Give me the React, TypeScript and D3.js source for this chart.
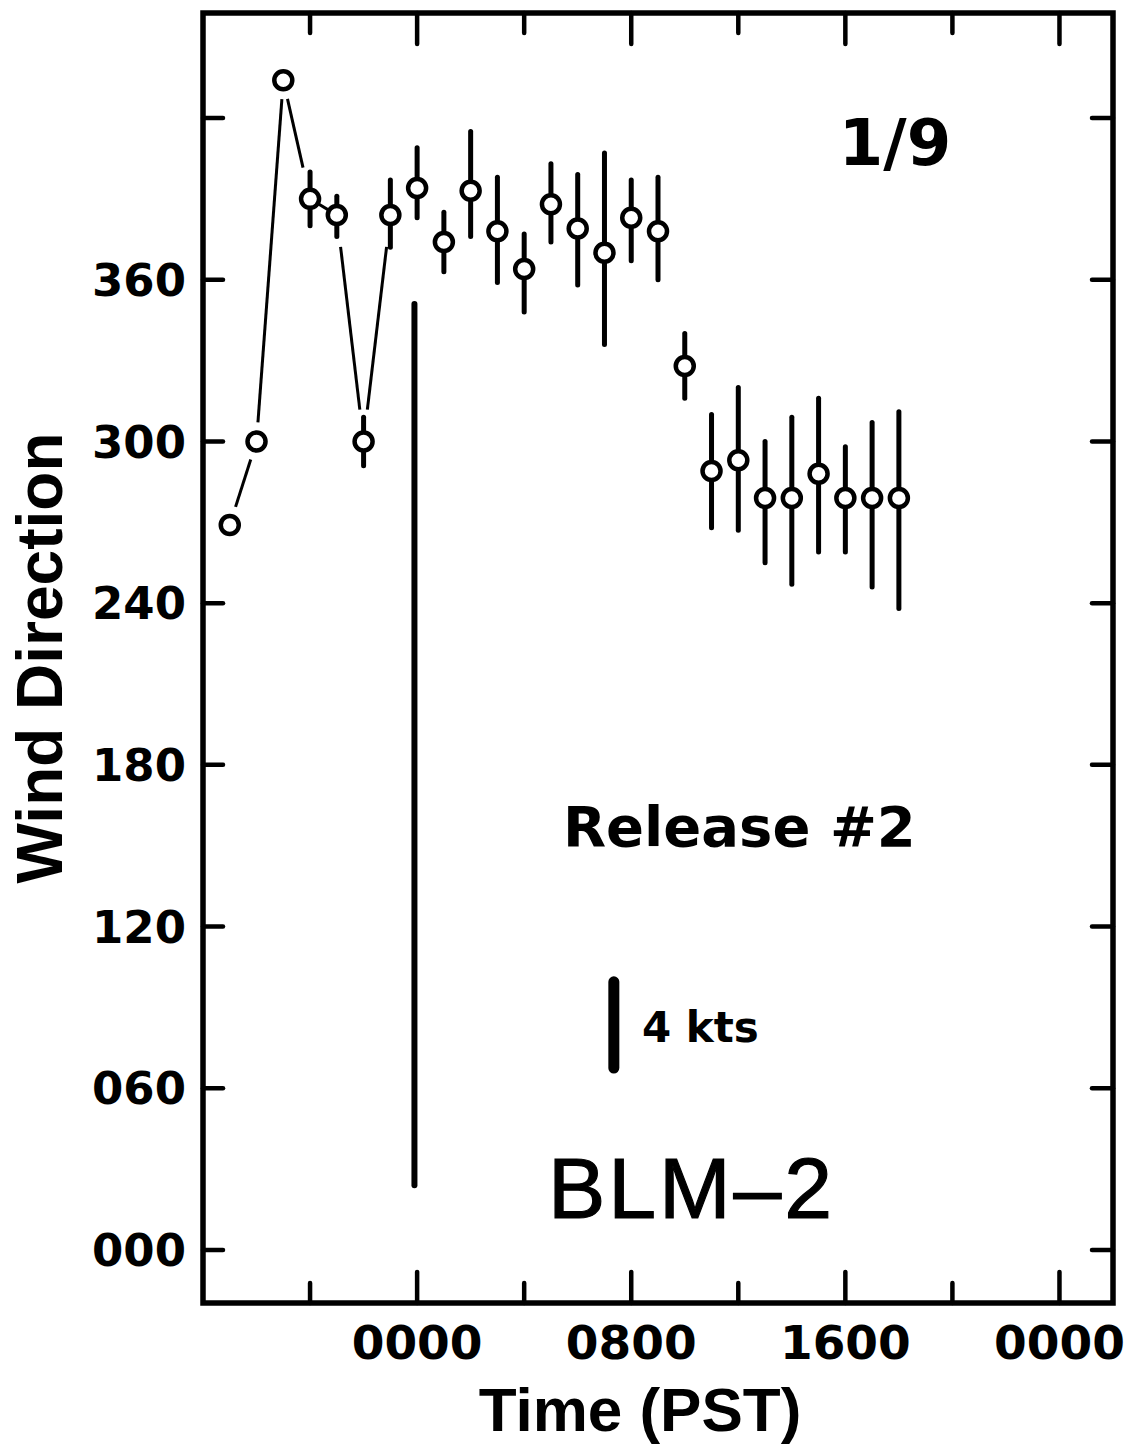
import * as d3 from 'd3';
import React, { useEffect, useRef } from 'react';

// hours relative to 0000 PST on 1/9
const hours = [-7, -6, -5, -4, -3, -2, -1, 0, 1, 2, 3, 4, 5, 6, 7, 8, 9, 10, 11, 12, 13, 14, 15, 16, 17, 18];
const direction = [269, 300, 434, 390, 384, 300, 384, 394, 374, 393, 378, 364, 388, 379, 370, 383, 378, 328, 289, 293, 279, 279, 288, 279, 279, 279];
// vertical bar extents (deg), null = no bar drawn
const barTop = [null, null, null, 400, 391, 309, 397, 409, 385, 415, 398, 377, 403, 399, 407, 397, 398, 340, 310, 320, 300, 309, 316, 298, 307, 311];
const barBottom = [null, null, null, 380, 376, 291, 372, 383, 363, 376, 359, 348, 374, 358, 336, 367, 360, 316, 268, 267, 255, 247, 259, 259, 246, 238];
// points joined by the thin line
const linkedHours = [-7, -6, -5, -4, -3, -2, -1];

const yTicks = [0, 60, 120, 180, 240, 300, 360, 420];
const yTickLabels = ['000', '060', '120', '180', '240', '300', '360', ''];
const xTicks = [-4, 0, 4, 8, 12, 16, 20, 24];
const xTickLabels = ['', '0000', '', '0800', '', '1600', '', '0000'];

// release marker and speed scale
const release = { hour: -0.1, from: 24, to: 351 };
const speedScale = { hour: 7.35, from: 67.5, to: 99.5, label: '4 kts' };

const W = 1131;
const H = 1446;

function WindChart() {
  const node = useRef<SVGSVGElement | null>(null);

  useEffect(() => {
    const svg = d3.select(node.current);
    svg.selectAll('*').remove();

    const left = 203;
    const right = 1113;
    const top = 13;
    const bottom = 1303;

    const x = d3.scaleLinear().domain([-8, 26]).range([left, right]);
    const y = d3.scaleLinear().domain([0, 420]).range([1250, 118]);

    const numFont = 'DejaVu Sans, sans-serif';
    const textFont = 'Liberation Sans, Arial, sans-serif';

    // frame
    svg.append('rect')
      .attr('x', left).attr('y', top)
      .attr('width', right - left).attr('height', bottom - top)
      .attr('fill', 'none').attr('stroke', '#000').attr('stroke-width', 5.5);

    // y ticks, both sides, inward
    yTicks.forEach((t) => {
      svg.append('line')
        .attr('x1', left).attr('x2', left + 20)
        .attr('y1', y(t)).attr('y2', y(t))
        .attr('stroke', '#000').attr('stroke-width', 4.5).attr('stroke-linecap', 'round');
      svg.append('line')
        .attr('x1', right).attr('x2', right - 21)
        .attr('y1', y(t)).attr('y2', y(t))
        .attr('stroke', '#000').attr('stroke-width', 4.5).attr('stroke-linecap', 'round');
    });
    svg.append('g').selectAll('text')
      .data(yTicks.filter((_, i) => yTickLabels[i] !== ''))
      .enter().append('text')
      .attr('x', 186).attr('y', (d) => y(d)).attr('dy', '0.36em')
      .attr('text-anchor', 'end')
      .attr('font-family', numFont).attr('font-weight', 'bold').attr('font-size', 45)
      .text((d) => yTickLabels[yTicks.indexOf(d)]);

    // x ticks, top and bottom, inward; major every 8 h
    xTicks.forEach((t) => {
      const len = t % 8 === 0 ? 31 : 20;
      svg.append('line')
        .attr('x1', x(t)).attr('x2', x(t))
        .attr('y1', bottom).attr('y2', bottom - len)
        .attr('stroke', '#000').attr('stroke-width', 4.5).attr('stroke-linecap', 'round');
      svg.append('line')
        .attr('x1', x(t)).attr('x2', x(t))
        .attr('y1', top).attr('y2', top + len)
        .attr('stroke', '#000').attr('stroke-width', 4.5).attr('stroke-linecap', 'round');
    });
    svg.append('g').selectAll('text')
      .data(xTicks.filter((_, i) => xTickLabels[i] !== ''))
      .enter().append('text')
      .attr('x', (d) => x(d)).attr('y', 1359)
      .attr('text-anchor', 'middle')
      .attr('font-family', numFont).attr('font-weight', 'bold').attr('font-size', 47)
      .text((d) => xTickLabels[xTicks.indexOf(d)]);

    // axis titles
    svg.append('text')
      .attr('transform', 'translate(62,658) rotate(-90)')
      .attr('text-anchor', 'middle')
      .attr('font-family', textFont).attr('font-weight', 'bold').attr('font-size', 64)
      .text('Wind Direction');
    svg.append('text')
      .attr('x', 640).attr('y', 1431)
      .attr('text-anchor', 'middle')
      .attr('font-family', textFont).attr('font-weight', 'bold').attr('font-size', 62)
      .text('Time (PST)');

    // thin connecting line, stopping short of circles (and of their bars)
    const gapAt = (i: number) => (barTop[i] === null ? 19 : 32);
    for (let k = 0; k < linkedHours.length - 1; k++) {
      const a = hours.indexOf(linkedHours[k]);
      const b = hours.indexOf(linkedHours[k + 1]);
      const x1 = x(hours[a]);
      const y1 = y(direction[a]);
      const x2 = x(hours[b]);
      const y2 = y(direction[b]);
      const len = Math.hypot(x2 - x1, y2 - y1);
      const ux = (x2 - x1) / len;
      const uy = (y2 - y1) / len;
      svg.append('line')
        .attr('x1', x1 + ux * gapAt(a)).attr('y1', y1 + uy * gapAt(a))
        .attr('x2', x2 - ux * gapAt(b)).attr('y2', y2 - uy * gapAt(b))
        .attr('stroke', '#000').attr('stroke-width', 3);
    }

    // release marker
    svg.append('line')
      .attr('x1', x(release.hour)).attr('x2', x(release.hour))
      .attr('y1', y(release.to)).attr('y2', y(release.from))
      .attr('stroke', '#000').attr('stroke-width', 6).attr('stroke-linecap', 'round');

    // bars
    svg.append('g').selectAll('line')
      .data(hours.map((h, i) => ({ h, t: barTop[i], b: barBottom[i] })).filter((d) => d.t !== null))
      .enter().append('line')
      .attr('x1', (d) => x(d.h)).attr('x2', (d) => x(d.h))
      .attr('y1', (d) => y(d.t as number)).attr('y2', (d) => y(d.b as number))
      .attr('stroke', '#000').attr('stroke-width', 5).attr('stroke-linecap', 'round');

    // circles
    svg.append('g').selectAll('circle')
      .data(hours.map((h, i) => ({ h, v: direction[i] })))
      .enter().append('circle')
      .attr('cx', (d) => x(d.h)).attr('cy', (d) => y(d.v))
      .attr('r', 9)
      .attr('fill', '#fff').attr('stroke', '#000').attr('stroke-width', 4.5);

    // speed scale bar
    svg.append('line')
      .attr('x1', x(speedScale.hour)).attr('x2', x(speedScale.hour))
      .attr('y1', y(speedScale.to)).attr('y2', y(speedScale.from))
      .attr('stroke', '#000').attr('stroke-width', 11).attr('stroke-linecap', 'round');
    svg.append('text')
      .attr('x', 642).attr('y', 1042)
      .attr('font-family', numFont).attr('font-weight', 'bold').attr('font-size', 42)
      .text(speedScale.label);

    // annotations
    svg.append('text')
      .attr('x', 895).attr('y', 165).attr('text-anchor', 'middle')
      .attr('font-family', numFont).attr('font-weight', 'bold').attr('font-size', 64)
      .text('1/9');
    svg.append('text')
      .attr('x', 563).attr('y', 846)
      .attr('font-family', numFont).attr('font-weight', 'bold').attr('font-size', 56)
      .text('Release #2');
    svg.append('text')
      .attr('x', 548).attr('y', 1218)
      .attr('font-family', textFont).attr('font-size', 86)
      .attr('stroke', '#000').attr('stroke-width', 1.2)
      .attr('textLength', 284).attr('lengthAdjust', 'spacing')
      .text('BLM\u20132');
  }, []);

  return (
    <svg
      ref={node}
      width={W}
      height={H}
      style={{ position: 'absolute', left: 0, top: 0, background: '#fff' }}
    />
  );
}

export default function App() {
  return <WindChart />;
}
